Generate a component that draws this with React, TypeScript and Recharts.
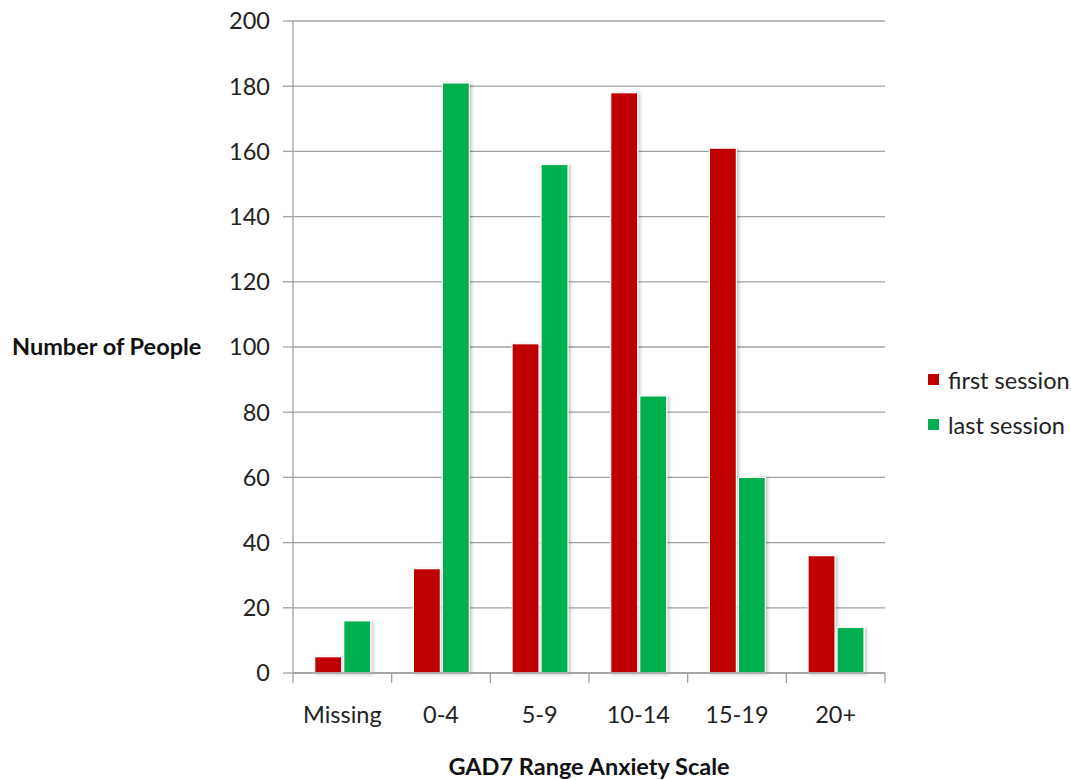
import { Bar, BarChart, CartesianGrid, Label, XAxis, YAxis } from "recharts";

const ranges = ["Missing", "0-4", "5-9", "10-14", "15-19", "20+"];
const firstSession = [5, 32, 101, 178, 161, 36];
const lastSession = [16, 181, 156, 85, 60, 14];
const yTicks = [0, 20, 40, 60, 80, 100, 120, 140, 160, 180, 200];

const RED = "#c00000";
const GREEN = "#00b050";
const GRID = "#a0a0a0";
const FONT = "Lato, 'Open Sans', sans-serif";
const FONT_SIZE = 23.5;

const data = ranges.map((name, i) => ({
  name,
  first: firstSession[i],
  last: lastSession[i]
}));

const ShadowBar = (props: any) => {
  const { x, y, width, height, fill } = props;
  if (!height || height <= 0) return null;
  return (
    <rect
      x={x}
      y={y}
      width={width}
      height={height}
      fill={fill}
      stroke="#ffffff"
      strokeWidth={1.2}
      filter="url(#barShadow)"
    />
  );
};

const TICK_GAP = 33;

// category label with tick marks on the band edges instead of the centre
const RangeTick = (props: any) => {
  const { x, y, payload, index } = props;
  const half = payload.offset || 0;
  const axisY = y - TICK_GAP;
  return (
    <g>
      <line x1={x - half} x2={x - half} y1={axisY} y2={axisY + 10} stroke={GRID} strokeWidth={1.3} />
      {index === ranges.length - 1 ? (
        <line x1={x + half} x2={x + half} y1={axisY} y2={axisY + 10} stroke={GRID} strokeWidth={1.3} />
      ) : null}
      <text x={x} y={y} dy="0.71em" textAnchor="middle" fontFamily={FONT} fontSize={FONT_SIZE} fill="#222">
        {payload.value}
      </text>
    </g>
  );
};

const legendItems = [
  { label: "first session", color: RED },
  { label: "last session", color: GREEN }
];

const SessionLegend = () => (
  <div style={{ position: "absolute", left: 928, top: 357, fontFamily: FONT, fontSize: FONT_SIZE, color: "#222" }}>
    {legendItems.map((item) => (
      <div key={item.label} style={{ display: "flex", alignItems: "center", height: 45 }}>
        <span style={{ width: 11, height: 11, background: item.color, marginRight: 9, display: "inline-block" }} />
        <span>{item.label}</span>
      </div>
    ))}
  </div>
);

export default function App() {
  return (
    <div style={{ position: "absolute", left: 0, top: 0, width: 1071, height: 780, background: "#fff" }}>
      <svg width={0} height={0} style={{ position: "absolute" }}>
        <defs>
          <filter id="barShadow" x="-30%" y="-10%" width="160%" height="130%">
            <feDropShadow dx={2} dy={1} stdDeviation={1.8} floodColor="#000" floodOpacity={0.22} />
          </filter>
        </defs>
      </svg>
      <BarChart
        width={1071}
        height={780}
        data={data}
        margin={{ top: 21, right: 186, left: 0, bottom: 0 }}
        barCategoryGap="22%"
        barGap={2}
      >
        <CartesianGrid vertical={false} stroke={GRID} strokeWidth={1.3} />
        <XAxis
          dataKey="name"
          height={107}
          axisLine={{ stroke: GRID, strokeWidth: 1.3 }}
          tickLine={false}
          tickSize={0}
          tickMargin={TICK_GAP}
          interval={0}
          tick={<RangeTick />}
        >
          <Label
            value="GAD7 Range Anxiety Scale"
            position="insideBottom"
            offset={5}
            style={{ fontFamily: FONT, fontSize: FONT_SIZE, fontWeight: 700, fill: "#111" }}
          />
        </XAxis>
        <YAxis
          width={293}
          domain={[0, 200]}
          ticks={yTicks}
          interval={0}
          axisLine={{ stroke: GRID, strokeWidth: 1.3 }}
          tickLine={{ stroke: GRID, strokeWidth: 1.3 }}
          tickSize={10}
          tickMargin={13}
          tick={{ fontFamily: FONT, fontSize: FONT_SIZE, fill: "#222" }}
        >
          <Label
            value="Number of People"
            position="insideLeft"
            offset={12}
            angle={0}
            style={{ fontFamily: FONT, fontSize: FONT_SIZE, fontWeight: 700, fill: "#111", textAnchor: "start" }}
          />
        </YAxis>
        <Bar dataKey="first" fill={RED} shape={ShadowBar} isAnimationActive={false} />
        <Bar dataKey="last" fill={GREEN} shape={ShadowBar} isAnimationActive={false} />
      </BarChart>
      <SessionLegend />
    </div>
  );
}
